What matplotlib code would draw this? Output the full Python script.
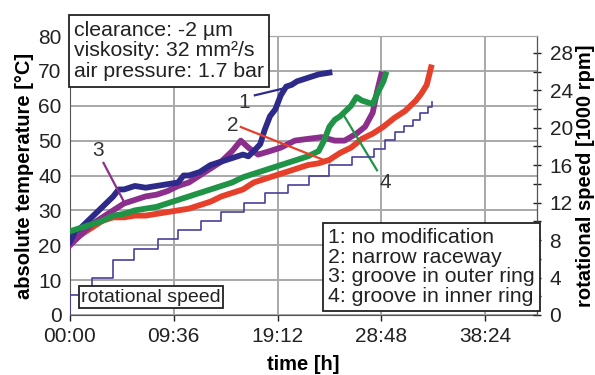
import matplotlib
matplotlib.use("Agg")
import matplotlib.pyplot as plt
from matplotlib.ticker import FixedLocator, MultipleLocator

plt.rcParams['font.family'] = ['Liberation Sans', 'DejaVu Sans']

# time in hours, temperature in degC
t_blue = [0, 0.5, 1, 2, 3, 4, 4.5, 5, 6, 7, 8, 9, 10, 10.5, 11, 12, 13, 14, 15, 16,
          16.5, 17, 17.6, 18, 18.5, 19, 19.5, 20, 20.5, 21, 22, 23, 24]
T_blue = [21, 24, 25, 28, 31, 34, 36, 36, 37, 36.5, 37, 37.5, 38, 40, 40, 41, 43, 44, 45, 46,
          45.5, 47, 49, 53, 57, 59, 63, 65.5, 66, 67, 68, 69, 69.5]

t_red = [0, 1, 2, 3, 4, 5, 6, 7, 8, 9, 10, 11, 12, 13, 14, 15, 16, 17, 18, 19, 20, 21,
         22, 23, 24, 25, 26, 27, 28, 29, 30, 31, 32, 32.5, 33, 33.4]
T_red = [21, 23, 25, 27, 28, 28, 28.5, 28.5, 29, 29.5, 30, 30.5, 31.5, 32.5, 34, 35, 36, 38,
         39, 40, 41, 42, 43, 43.5, 44.5, 46.5, 48, 50.5, 52, 54, 56.5, 58.5, 61.5, 63.5, 66, 71]

t_purple = [0, 1, 2, 3, 4, 5, 6, 7, 8, 9, 10, 11, 12, 13, 14, 15, 15.8, 16.5, 17.4, 18.5,
            19.5, 20.8, 22, 23.3, 24.5, 25.4, 26.5, 27.3, 28, 28.4, 28.8]
T_purple = [20, 23, 26, 28, 30, 32, 33, 34, 34.5, 35.5, 37, 38, 40, 42, 44, 47, 50, 48, 46,
            47, 48, 50, 50.5, 51, 50, 50, 52, 54, 58, 64, 69]

t_green = [0, 1, 2, 3, 4, 5, 6, 7, 8, 9, 10, 11, 12, 13, 14, 15, 16, 17, 18, 19, 20, 21,
           22, 23, 23.5, 24, 24.5, 25, 26, 26.5, 27, 27.5, 28, 28.5, 29, 29.2]
T_green = [24, 25, 26, 27, 28.5, 29, 30, 30.5, 31, 32, 33, 34, 35, 36, 37, 38, 39.5, 40.5,
           41.5, 42.5, 43.5, 44.5, 45.5, 47, 50, 54, 56, 57, 60, 62.5, 61.5, 61, 60.5, 64, 67, 69]

# rotational speed steps [1000 rpm]
t_speed = [0, 0, 2.05, 4.0, 5.9, 8.1, 10.0, 12.1, 14.0, 16.1, 18.0, 20.2, 22.1, 24.0, 26.1,
           28.1, 29.1, 30.1, 30.9, 31.7, 32.4, 33.1, 33.5, 33.5]
speed = [0, 2.1, 4.0, 5.9, 7.0, 8.1, 9.1, 10.0, 11.0, 12.0, 13.0, 13.9, 14.9, 16.0, 16.9,
         17.7, 18.7, 19.5, 20.2, 20.8, 21.6, 22.2, 22.8, 22.8]

x_ticks = [0, 9.6, 19.2, 28.8, 38.4]
x_ticklabels = ["00:00", "09:36", "19:12", "28:48", "38:24"]

c_blue = '#2d2a8a'
c_red = '#e6402a'
c_purple = '#8c2f8c'
c_green = '#1f9447'
grid_c = '#a8a8a8'
txt_c = '#222222'
fs = 15

fig = plt.figure(figsize=(5.95, 3.75), dpi=100)
ax = fig.add_axes([70 / 595, 1 - 315 / 375, 467 / 595, 279 / 375])
ax2 = ax.twinx()

lw = 4.2
ax.plot(t_red, T_red, color=c_red, lw=lw, zorder=3)
ax.plot(t_purple, T_purple, color=c_purple, lw=lw, zorder=3)
ax.plot(t_green, T_green, color=c_green, lw=lw, zorder=4)
ax.plot(t_blue, T_blue, color=c_blue, lw=lw, zorder=3)

ax2.plot(t_speed, speed, color='#4a3f9a', lw=1.2, drawstyle='steps-post')

# number labels with leader lines
ax.plot([17.1, 20.2], [63, 65.3], color=c_blue, lw=1.6, zorder=5)
ax.text(16.1, 61, "1", fontsize=fs, ha='center', va='center', color='#333333')
ax.plot([15.8, 24.0], [53.9, 43.8], color=c_red, lw=1.6, zorder=5)
ax.text(15.1, 54.4, "2", fontsize=fs, ha='center', va='center', color='#333333')
ax.plot([3.1, 4.9], [43.6, 33], color=c_purple, lw=1.6, zorder=5)
ax.text(2.6, 47.3, "3", fontsize=fs, ha='center', va='center', color='#333333')
ax.plot([28.4, 25.2], [41.5, 57.9], color=c_green, lw=1.6, zorder=5)
ax.text(29.2, 38.1, "4", fontsize=fs, ha='center', va='center', color='#333333')

ax.set_xlim(0, 43.2)
ax.set_ylim(0, 80)
ax2.set_ylim(0, 29.8)
ax.xaxis.set_major_locator(FixedLocator(x_ticks))
ax.set_xticklabels(x_ticklabels)
ax.yaxis.set_major_locator(MultipleLocator(10))
ax2.yaxis.set_major_locator(MultipleLocator(4))
ax2.yaxis.set_minor_locator(MultipleLocator(2))

ax.grid(True, color=grid_c, lw=1.4)
ax.set_axisbelow(True)
ax.tick_params(labelsize=fs, colors=txt_c, length=4, width=1, direction='out')
ax.tick_params(axis='y', length=0, pad=6)
ax.tick_params(axis='x', pad=5)
ax2.tick_params(labelsize=fs, colors=txt_c, which='both', direction='inout', length=6, width=1)
ax2.tick_params(axis='y', which='major', pad=6)

ax.spines['top'].set_color(grid_c)
ax2.spines['top'].set_color(grid_c)
ax2.spines['left'].set_visible(False)
ax2.spines['bottom'].set_visible(False)
for s in ['left', 'bottom']:
    ax.spines[s].set_color('#555555')
ax2.spines['right'].set_color('#555555')

ax.set_xlabel("time [h]", fontsize=14.5, fontweight='bold', labelpad=6)
ax.set_ylabel("absolute temperature [°C]", fontsize=14.5, fontweight='bold', labelpad=3)
ax2.set_ylabel("rotational speed [1000 rpm]", fontsize=14.5, fontweight='bold', labelpad=2)

box = dict(boxstyle='square,pad=0.25', fc='white', ec=txt_c, lw=1.3)
fig.text(74 / 595, 1 - 51 / 375,
         "clearance: -2 µm\nviskosity: 32 mm²/s\nair pressure: 1.7 bar",
         fontsize=15.3, ha='left', va='center', linespacing=1.12, color=txt_c, bbox=box)
fig.text(328 / 595, 1 - 267 / 375,
         "1: no modification\n2: narrow raceway\n3: groove in outer ring\n4: groove in inner ring",
         fontsize=15.3, ha='left', va='center', linespacing=1.05, color=txt_c, bbox=box)
fig.text(151 / 595, 1 - 297 / 375, "rotational speed", fontsize=14, ha='center', va='center',
         color=txt_c, bbox=dict(boxstyle='square,pad=0.12', fc='white', ec=txt_c, lw=1.3))

fig.savefig("out.png", dpi=100)
